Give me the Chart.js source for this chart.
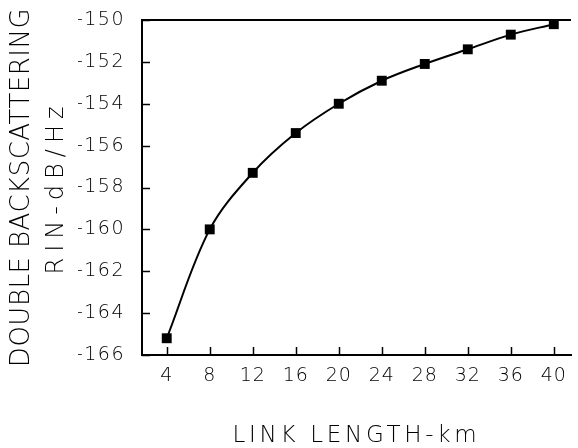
<!DOCTYPE html>
<html>
<head>
<meta charset="utf-8">
<script src="https://cdn.jsdelivr.net/npm/chart.js@4/dist/chart.umd.min.js"></script>
<style>
  html, body { margin: 0; padding: 0; background: #ffffff; }
  #wrap { width: 578px; height: 448px; position: relative; }
</style>
</head>
<body>
<div id="wrap"><canvas id="c" width="578" height="448"></canvas></div>
<script>
// ---- data ----
const linkLengthKm = [4, 8, 12, 16, 20, 24, 28, 32, 36, 40];
const rinDbHz = [-165.2, -160.0, -157.3, -155.4, -154.0, -152.9, -152.1, -151.4, -150.7, -150.2];
const xTickValues = [4, 8, 12, 16, 20, 24, 28, 32, 36, 40];
const yTickValues = [-166, -164, -162, -160, -158, -156, -154, -152, -150];
const xTitle = 'LINK LENGTH-km';
const yTitleOuter = 'DOUBLE BACKSCATTERING';
const yTitleInner = 'RIN-dB/Hz';

const FONT = "'DejaVu Sans', sans-serif";
const WEIGHT = 200;

// letter spacing per scale part
const spacing = {
  x: { title: '3.7px', labels: '1px' },
  y: { title: '0px', labels: '1.5px' },
  yR: { title: '6px', labels: '0px' },
  yT: { title: '0.5px', labels: '0px' }
};

const spacingPlugin = {
  id: 'spacing',
  beforeDraw(chart) {
    const ctx = chart.ctx;
    Object.values(chart.scales).forEach(s => {
      if (s._spPatched) return;
      const sp = spacing[s.id];
      if (!sp) return;
      const dt = s.drawTitle, dl = s.drawLabels;
      s.drawTitle = function () { ctx.save(); ctx.letterSpacing = sp.title; dt.apply(this, arguments); ctx.restore(); };
      s.drawLabels = function () { ctx.save(); ctx.letterSpacing = sp.labels; dl.apply(this, arguments); ctx.restore(); };
      s._spPatched = true;
    });
  }
};

// inward tick marks + top frame line
const frameTicks = {
  id: 'frameTicks',
  afterDraw(chart) {
    const { ctx, chartArea: a, scales } = chart;
    ctx.save();
    ctx.strokeStyle = '#000';
    ctx.lineWidth = 1.5;
    scales.x.ticks.forEach(t => {
      const px = Math.round(scales.x.getPixelForValue(t.value)) + 0.5;
      ctx.beginPath(); ctx.moveTo(px, a.bottom); ctx.lineTo(px, a.bottom - 8); ctx.stroke();
    });
    scales.y.ticks.forEach(t => {
      const py = Math.round(scales.y.getPixelForValue(t.value)) + 0.5;
      ctx.beginPath(); ctx.moveTo(a.left, py); ctx.lineTo(a.left + 8, py); ctx.stroke();
    });
    ctx.lineWidth = 2;
    ctx.beginPath(); ctx.moveTo(a.left, a.top); ctx.lineTo(a.right, a.top); ctx.stroke();
    ctx.restore();
  }
};

new Chart(document.getElementById('c'), {
  type: 'line',
  data: {
    datasets: [{
      data: linkLengthKm.map((x, i) => ({ x: x, y: rinDbHz[i] })),
      borderColor: '#000',
      backgroundColor: '#000',
      borderWidth: 2,
      tension: 0.35,
      pointStyle: 'rect',
      pointRadius: 7,
      pointBorderWidth: 0,
      pointBackgroundColor: '#000',
      fill: false,
      clip: false
    }]
  },
  options: {
    responsive: false,
    animation: false,
    devicePixelRatio: 1,
    layout: { padding: { top: 20, right: 1, left: 0, bottom: 0 } },
    plugins: { legend: { display: false }, tooltip: { enabled: false } },
    scales: {
      x: {
        type: 'linear',
        min: 1.7,
        max: 41.6,
        afterBuildTicks: s => { s.ticks = xTickValues.map(v => ({ value: v })); },
        afterFit: s => { s.height = 93; s.paddingLeft = 0; s.paddingRight = 0; },
        grid: { display: false, drawTicks: false },
        border: { display: true, color: '#000', width: 2 },
        ticks: { color: '#000', font: { family: FONT, size: 19, weight: WEIGHT }, padding: 10, maxRotation: 0, autoSkip: false,
                 callback: v => String(v) },
        title: { display: true, text: xTitle, color: '#000', font: { family: FONT, size: 23, lineHeight: 1, weight: WEIGHT },
                 padding: { top: 0, bottom: 0 } }
      },
      y: {
        type: 'linear',
        position: 'left',
        weight: 0,
        min: -166,
        max: -150,
        afterBuildTicks: s => { s.ticks = yTickValues.map(v => ({ value: v })); },
        afterFit: s => { s.width = 64; s.paddingTop = 0; s.paddingBottom = 0; },
        grid: { display: false, drawTicks: false },
        border: { display: true, color: '#000', width: 2 },
        ticks: { color: '#000', font: { family: FONT, size: 19, weight: WEIGHT }, padding: 17, callback: v => String(v) }
      },
      yR: {
        type: 'linear',
        position: 'left',
        weight: 1,
        afterFit: s => { s.width = 38; },
        grid: { display: false, drawTicks: false },
        border: { display: false },
        ticks: { display: false },
        title: { display: true, text: yTitleInner, color: '#000', font: { family: FONT, size: 24, lineHeight: 1, weight: WEIGHT },
                 padding: { top: 5, bottom: 0 } }
      },
      yT: {
        type: 'linear',
        position: 'left',
        weight: 2,
        afterFit: s => { s.width = 40; },
        grid: { display: false, drawTicks: false },
        border: { display: false },
        ticks: { display: false },
        title: { display: true, text: yTitleOuter, color: '#000', font: { family: FONT, size: 26, lineHeight: 1, weight: WEIGHT },
                 padding: { top: 9, bottom: 0 } }
      }
    }
  },
  plugins: [spacingPlugin, frameTicks]
});
</script>
</body>
</html>
